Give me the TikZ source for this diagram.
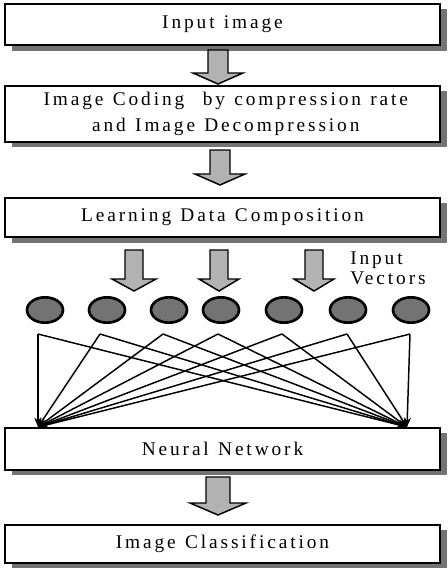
\documentclass[tikz,border=0pt]{standalone}
\usepackage{fontspec}
\setmainfont{Liberation Serif}[LetterSpace=15,WordSpace=1.2]
\usetikzlibrary{arrows.meta,shadows,shapes.geometric}

% outline of a broad hollow arrow: centre x, top y, bottom y, shaft half width, head half width, head height
\newcommand\fatarrow[6]{%
  \draw[fatarrowstyle] (#1-#4,#2) -- (#1+#4,#2) -- (#1+#4,#3-#6) -- (#1+#5,#3-#6)
    -- (#1,#3) -- (#1-#5,#3-#6) -- (#1-#4,#3-#6) -- cycle;}

\begin{document}
\begin{tikzpicture}[x=0.75pt,y=-0.75pt,
  stagebox/.style={draw, line width=1.2pt, fill=white, minimum width=326.25pt,
    inner sep=0pt, align=center, font=\fontsize{14.5}{19}\selectfont,
    drop shadow={shadow xshift=5pt, shadow yshift=-4pt, fill=black!55, opacity=1}},
  fatarrowstyle/.style={draw, line width=1.1pt, fill=black!30, line join=miter},
  vecnode/.style={ellipse, draw, line width=2pt, fill=black!55,
    minimum width=27pt, minimum height=19pt, inner sep=0pt},
  conn/.style={line width=1.1pt, -{Stealth[length=7pt,width=5.5pt]}},
  label/.style={font=\fontsize{14.5}{15}\selectfont, align=left, anchor=west, inner sep=0pt}]
\useasboundingbox (0,0) rectangle (447,568);

% processing stages
\node[stagebox, minimum height=31pt] (input) at (222.5,24.5) {Input image};
\node[stagebox, minimum height=42pt] (coding) at (222.5,114)
  {\hspace*{5pt}Image Coding~~by compression rate\\\hspace*{5pt}and Image Decompression};
\node[stagebox, minimum height=29.5pt] (learn) at (222.5,217.5) {Learning Data Composition};
\node[stagebox, minimum height=31.5pt] (nn) at (222.5,449) {Neural Network};
\node[stagebox, minimum height=28.5pt] (classify) at (222.5,544) {Image Classification};

% broad arrows between stages
\fatarrow{218}{50}{84}{10}{25}{11}
\fatarrow{220}{150}{185}{10}{25}{11}
\fatarrow{218}{477}{515}{12}{28}{12}

% learning data split into input vectors
\fatarrow{134}{250}{291}{9}{22}{12}
\fatarrow{219}{250}{291}{9}{20}{12}
\fatarrow{314}{250}{291}{9}{20}{12}
\node[label] (vlabel) at (350,268) {Input\\Vectors};

% input vectors
\foreach \i/\x in {1/45,2/107,3/169,4/221,5/284,6/348,7/411}
  \node[vecnode] (e\i) at (\x,310) {};

% fan-out into the network
\foreach \i/\x in {1/38,2/100,3/163,4/218,5/282,6/347,7/410}
  \coordinate (v\i) at (\x,334);
\coordinate (nl) at (38,427);
\coordinate (nr) at (407,427);
\foreach \i in {1,...,7} {
  \draw[conn] (v\i) -- (nl);
  \draw[conn] (v\i) -- (nr);
}
\end{tikzpicture}
\end{document}
